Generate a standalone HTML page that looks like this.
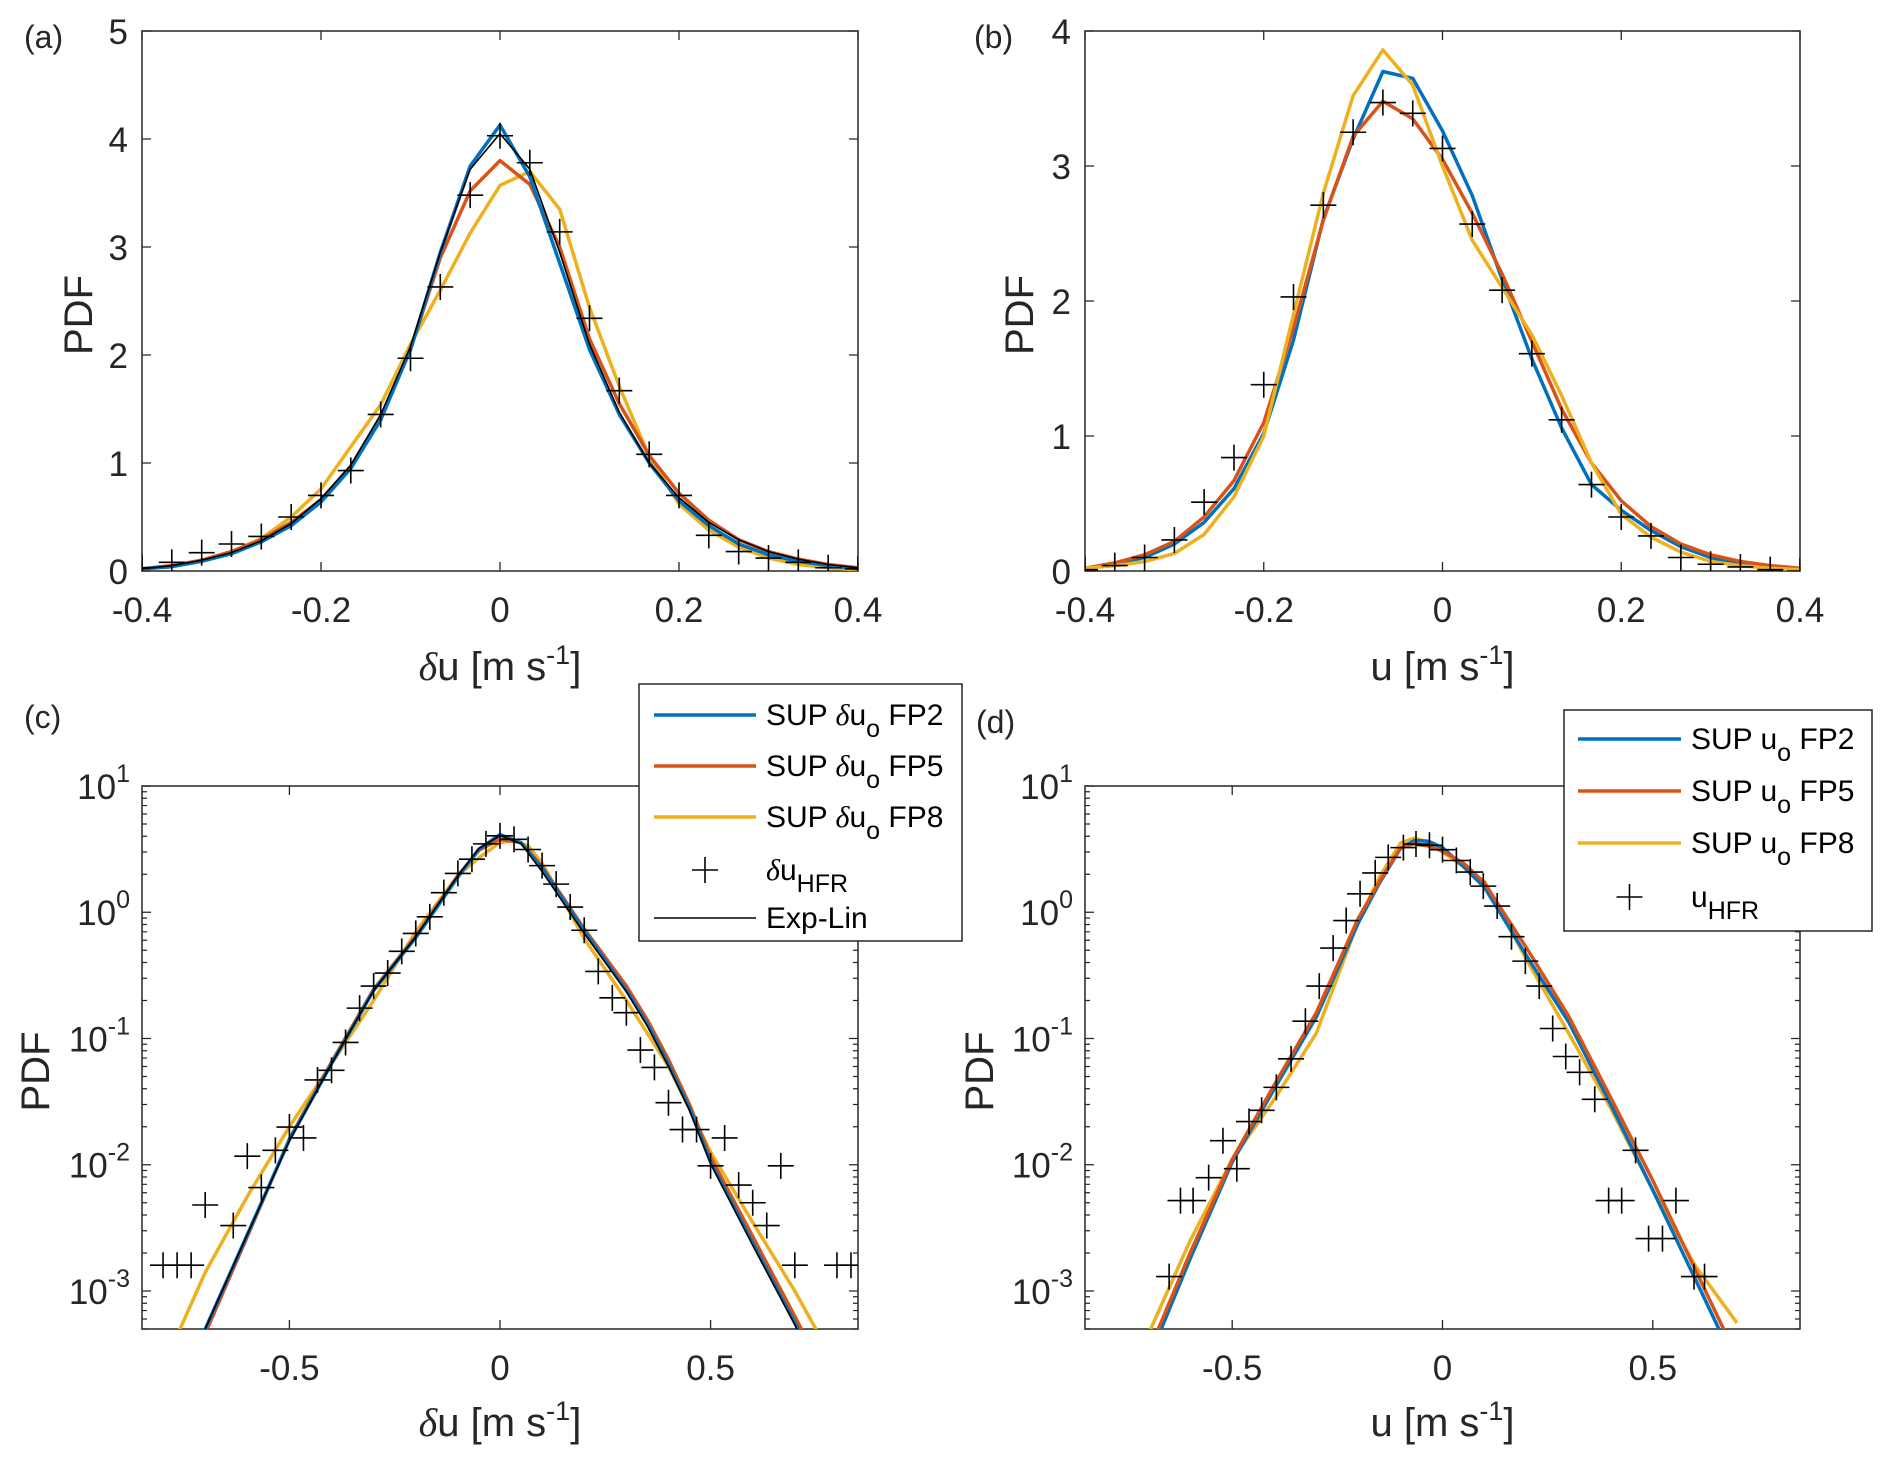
<!DOCTYPE html>
<html><head><meta charset="utf-8"><style>
html,body{margin:0;padding:0;background:#fff;}
svg{display:block;font-family:"Liberation Sans",Arial,sans-serif;}
</style></head><body>
<svg id="fig" width="1892" height="1461" viewBox="0 0 1892 1461" xmlns="http://www.w3.org/2000/svg">
<defs>
<clipPath id="clipA"><rect x="142" y="31" width="716" height="540"/></clipPath>
<clipPath id="clipB"><rect x="1085" y="31" width="715" height="540"/></clipPath>
<clipPath id="clipC"><rect x="142" y="786" width="716" height="543"/></clipPath>
<clipPath id="clipD"><rect x="1085" y="786" width="715" height="543"/></clipPath>
</defs>
</svg>
<script>
// ---------- Panel (a) data: delta-u PDF, linear ----------
const aGridX = [-0.4,-0.3667,-0.3333,-0.3,-0.2667,-0.2333,-0.2,-0.1667,-0.1333,-0.1,-0.0667,-0.0333,0,0.0333,0.0667,0.1,0.1333,0.1667,0.2,0.2333,0.2667,0.3,0.3333,0.3667,0.4];
const aHFR  = [0.03,0.08,0.17,0.25,0.32,0.50,0.70,0.93,1.45,1.97,2.63,3.48,4.03,3.78,3.14,2.34,1.67,1.08,0.70,0.33,0.18,0.12,0.08,0.03,0.02];
const aFP2  = [0.02,0.04,0.09,0.16,0.27,0.42,0.64,0.95,1.40,2.05,2.95,3.75,4.13,3.65,2.85,2.05,1.45,1.00,0.65,0.42,0.25,0.15,0.09,0.05,0.02];
const aFP5  = [0.02,0.05,0.10,0.18,0.29,0.45,0.66,0.97,1.42,2.05,2.90,3.52,3.80,3.58,3.00,2.15,1.55,1.07,0.72,0.47,0.29,0.18,0.11,0.06,0.03];
const aFP8  = [0.02,0.05,0.10,0.18,0.30,0.50,0.76,1.15,1.54,2.10,2.60,3.13,3.57,3.70,3.35,2.44,1.71,1.06,0.62,0.38,0.22,0.12,0.06,0.03,0.01];
const aExpLin=[0.02,0.05,0.10,0.17,0.28,0.44,0.67,0.98,1.45,2.08,2.95,3.72,4.05,3.72,2.95,2.10,1.47,1.00,0.68,0.45,0.29,0.18,0.11,0.06,0.03];
const aXTicks = [-0.4,-0.2,0,0.2,0.4];
const aYTicks = [0,1,2,3,4,5];

// ---------- Panel (b) data: u PDF, linear ----------
const bGridX = aGridX;
const bHFR = [0.01,0.04,0.10,0.23,0.51,0.84,1.38,2.03,2.71,3.25,3.47,3.39,3.13,2.57,2.08,1.61,1.12,0.64,0.40,0.26,0.10,0.05,0.03,0.01,0.0];
const bFP2 = [0.02,0.05,0.10,0.20,0.36,0.61,1.02,1.71,2.61,3.20,3.70,3.65,3.26,2.78,2.16,1.57,1.06,0.64,0.45,0.30,0.18,0.10,0.05,0.02,0.01];
const bFP5 = [0.02,0.06,0.12,0.22,0.40,0.67,1.10,1.80,2.60,3.22,3.48,3.35,3.05,2.65,2.20,1.70,1.20,0.80,0.52,0.33,0.20,0.12,0.07,0.04,0.02];
const bFP8 = [0.02,0.04,0.07,0.13,0.27,0.55,1.00,1.90,2.80,3.52,3.86,3.60,3.00,2.45,2.10,1.75,1.30,0.80,0.42,0.25,0.14,0.07,0.04,0.02,0.01];
const bXTicks = [-0.4,-0.2,0,0.2,0.4];
const bYTicks = [0,1,2,3,4];

// ---------- Panel (c) data: delta-u PDF, log ----------
const cLineX = [-0.75,-0.7,-0.6,-0.5,-0.4,-0.3,-0.2,-0.1,-0.05,0,0.05,0.1,0.2,0.3,0.35,0.4,0.45,0.5,0.6,0.7,0.75];
const cFP2 = [2.0e-4,5.0e-4,2.8e-3,0.0158,0.063,0.24,0.63,1.9,3.16,4.12,3.55,2.24,0.71,0.24,0.13,0.062,0.028,0.0105,0.0024,5.6e-4,2.5e-4];
const cFP5 = [1.8e-4,4.6e-4,2.7e-3,0.016,0.065,0.245,0.65,1.95,3.1,3.8,3.55,2.3,0.74,0.26,0.14,0.068,0.03,0.0115,0.0027,6.3e-4,3.0e-4];
const cExpLin = [2.2e-4,5.0e-4,2.8e-3,0.0155,0.063,0.24,0.64,1.95,3.2,4.05,3.5,2.1,0.68,0.235,0.125,0.06,0.027,0.0102,0.0023,5.4e-4,2.5e-4];
const cFP8X = [-0.8,-0.7,-0.6,-0.5,-0.4,-0.3,-0.2,-0.1,-0.05,0,0.033,0.067,0.1,0.2,0.3,0.4,0.5,0.6,0.7,0.8];
const cFP8 = [2.5e-4,1.4e-3,5.6e-3,0.02,0.063,0.2,0.7,1.95,2.7,3.57,3.7,3.35,2.45,0.62,0.2,0.06,0.0126,0.0035,1.0e-3,2.5e-4];
const cHFRIdx = [-24,-23,-22,-21,-19,-18,-17,-16,-15,-14,-13,-12,-11,-10,-9,-8,-7,-6,-5,-4,-3,-2,-1,0,1,2,3,4,5,6,7,8,9,10,11,12,13,14,15,16,17,18,19,20,21,24,25];
const cHFR = [0.0016,0.0016,0.0016,0.0048,0.0033,0.0117,0.0066,0.013,0.0199,0.0163,0.047,0.056,0.093,0.174,0.26,0.33,0.49,0.68,0.92,1.43,2.03,2.63,3.48,4.03,3.78,3.14,2.34,1.67,1.1,0.72,0.34,0.21,0.16,0.081,0.059,0.031,0.019,0.019,0.0098,0.0163,0.0069,0.005,0.0033,0.0098,0.0016,0.0016,0.0016];
const cXTicks = [-0.5,0,0.5];
const logExps = [-3,-2,-1,0,1];

// ---------- Panel (d) data: u PDF, log ----------
const dLineX = [-0.7,-0.6,-0.5,-0.4,-0.3,-0.2,-0.15,-0.1,-0.067,-0.033,0,0.05,0.1,0.2,0.3,0.4,0.5,0.6,0.7];
const dFP2 = [2.8e-4,1.8e-3,0.0105,0.04,0.148,0.83,1.7,3.2,3.7,3.65,3.25,2.3,1.57,0.45,0.135,0.03,0.0063,1.26e-3,2.5e-4];
const dFP5 = [3.2e-4,2.0e-3,0.011,0.043,0.16,0.9,1.75,3.22,3.48,3.35,3.05,2.45,1.7,0.52,0.15,0.034,0.0075,1.5e-3,3.0e-4];
const dFP8 = [4.5e-4,2.5e-3,0.011,0.033,0.11,0.85,1.9,3.52,3.86,3.6,3.0,2.3,1.75,0.42,0.11,0.028,0.0063,1.6e-3,5.6e-4];
const dHFRX = [-0.650,-0.623,-0.593,-0.556,-0.522,-0.489,-0.460,-0.430,-0.395,-0.360,-0.326,-0.293,-0.260,-0.229,-0.196,-0.160,-0.129,-0.093,-0.063,-0.031,0,0.033,0.066,0.097,0.130,0.164,0.197,0.230,0.262,0.293,0.326,0.362,0.395,0.426,0.459,0.490,0.523,0.555,0.598,0.623];
const dHFR = [0.0013,0.0052,0.0052,0.0079,0.0155,0.0093,0.022,0.027,0.041,0.069,0.137,0.26,0.52,0.86,1.40,2.05,2.72,3.25,3.47,3.39,3.13,2.57,2.08,1.61,1.12,0.64,0.41,0.26,0.12,0.072,0.054,0.033,0.0052,0.0052,0.013,0.0026,0.0026,0.0052,0.0013,0.0013];
const dXTicks = [-0.5,0,0.5];

const BLUE='#0072BD', RED='#D95319', YEL='#EDB120';
const NS='http://www.w3.org/2000/svg';
const svg=document.getElementById('fig');

function el(tag, attrs, parent){
  const e=document.createElementNS(NS,tag);
  for(const k in attrs) e.setAttribute(k,attrs[k]);
  (parent||svg).appendChild(e);
  return e;
}

function makePanel(cfg){
  const g=el('g',{});
  
  
  const L=cfg.x0,R=cfg.x1,T=cfg.y0,B=cfg.y1;
  const sx=v=>L+(v-cfg.xmin)/(cfg.xmax-cfg.xmin)*(R-L);
  let sy;
  if(cfg.log){
    const lo=Math.log10(cfg.ymin), hi=Math.log10(cfg.ymax);
    sy=v=>B-(Math.log10(v)-lo)/(hi-lo)*(B-T);
  } else {
    sy=v=>B-(v-cfg.ymin)/(cfg.ymax-cfg.ymin)*(B-T);
  }
  cfg.sx=sx; cfg.sy=sy; cfg.g=g;
  el('rect',{x:L,y:T,width:R-L,height:B-T,fill:'#fff',stroke:'none'},g);
  cfg.xticks.forEach(t=>{
    const x=sx(t);
    const tk=el('path',{d:`M${x},${B}v-9M${x},${T}v9`,stroke:'#262626','stroke-width':1.3,fill:'none'},g);
    
    
    const lb=el('text',{x:x,y:B+51,'font-size':35,'text-anchor':'middle',fill:'#262626'},g);
    lb.textContent=String(t);
    
    
  });
  if(cfg.log){
    for(let d=-4; d<=1; d++){
      for(let m=1;m<=9;m++){
        const v=m*Math.pow(10,d);
        if(v<cfg.ymin||v>cfg.ymax+1e-9) continue;
        const y=sy(v), len=(m===1)?9:5;
        const mt=el('path',{d:`M${L},${y}h${len}M${R},${y}h-${len}`,stroke:'#262626','stroke-width':1.2,fill:'none'},g);
        
        
      }
    }
    logExps.forEach(e=>{
      const y=sy(Math.pow(10,e));
      const lb=el('text',{x:L-12,y:y+13,'font-size':35,'text-anchor':'end',fill:'#262626'},g);
      
      
      const t1=el('tspan',{},lb); t1.textContent='10';
      const t2=el('tspan',{dy:-17,'font-size':25},lb); t2.textContent=String(e);
    });
  } else {
    cfg.yticks.forEach(t=>{
      const y=sy(t);
      const tk=el('path',{d:`M${L},${y}h9M${R},${y}h-9`,stroke:'#262626','stroke-width':1.3,fill:'none'},g);
      
      
      const lb=el('text',{x:L-14,y:y+13,'font-size':35,'text-anchor':'end',fill:'#262626'},g);
      lb.textContent=String(t);
      
      
    });
  }
  const box=el('rect',{x:L,y:T,width:R-L,height:B-T,fill:'none',stroke:'#262626','stroke-width':1.5},g);
  
  
  const yl=el('text',{x:0,y:0,'font-size':40,'text-anchor':'middle',fill:'#262626',transform:`translate(${cfg.ylabX},${(T+B)/2+14}) rotate(-90)`},g);
  yl.textContent='PDF';
  
  
  const xl=el('text',{x:(L+R)/2,y:cfg.xlabY,'font-size':40,'text-anchor':'middle',fill:'#262626'},g);
  
  
  if(cfg.delta){ const d=el('tspan',{'font-family':'"Liberation Serif",serif','font-style':'italic'},xl); d.textContent='δ'; }
  const a=el('tspan',{},xl); a.textContent='u [m s';
  const s=el('tspan',{dy:-16,'font-size':27},xl); s.textContent='-1';
  const c=el('tspan',{dy:16},xl); c.textContent=']';
  const pl=el('text',{x:cfg.tagX,y:cfg.tagY,'font-size':32,fill:'#262626'},g);
  pl.textContent=cfg.tag;
  
  
  cfg.plot=el('g',{'clip-path':`url(#${cfg.clip})`},g);
  return cfg;
}

function line(cfg,xs,ys,color,w,name){
  const d=xs.map((x,i)=>(i?'L':'M')+cfg.sx(x).toFixed(1)+','+cfg.sy(ys[i]).toFixed(1)).join('');
  const p=el('path',{d:d,fill:'none',stroke:color,'stroke-width':w,'stroke-linejoin':'round'},cfg.plot);
  
  
}
function markers(cfg,xs,ys,name){
  const g=el('g',{},cfg.plot);
  
  
  xs.forEach((x,i)=>{
    const X=cfg.sx(x), Y=cfg.sy(ys[i]);
    const m=el('path',{d:`M${X-13},${Y}h26M${X},${Y-13}v26`,stroke:'#000','stroke-width':1.6,fill:'none'},g);
    
    
  });
}

const LW=3.5;
const A=makePanel({name:'panel-a',tag:'(a)',tagX:24,tagY:48,x0:142,x1:858,y0:31,y1:571,xmin:-0.4,xmax:0.4,ymin:0,ymax:5,log:false,xticks:aXTicks,yticks:aYTicks,ylabX:92,xlabY:680,delta:true,clip:'clipA'});
line(A,aGridX,aFP8,YEL,LW,'series-fp8');
line(A,aGridX,aFP5,RED,LW,'series-fp5');
line(A,aGridX,aFP2,BLUE,LW,'series-fp2');
line(A,aGridX,aExpLin,'#000',1.6,'series-exp-lin');
markers(A,aGridX,aHFR,'series-hfr');

const Bp=makePanel({name:'panel-b',tag:'(b)',tagX:974,tagY:48,x0:1085,x1:1800,y0:31,y1:571,xmin:-0.4,xmax:0.4,ymin:0,ymax:4,log:false,xticks:bXTicks,yticks:bYTicks,ylabX:1033,xlabY:680,delta:false,clip:'clipB'});
line(Bp,bGridX,bFP2,BLUE,LW,'series-fp2');
line(Bp,bGridX,bFP5,RED,LW,'series-fp5');
line(Bp,bGridX,bFP8,YEL,LW,'series-fp8');
markers(Bp,bGridX,bHFR,'series-hfr');

const C=makePanel({name:'panel-c',tag:'(c)',tagX:24,tagY:728,x0:142,x1:858,y0:786,y1:1329,xmin:-0.85,xmax:0.85,ymin:5e-4,ymax:10,log:true,xticks:cXTicks,ylabX:49,xlabY:1436,delta:true,clip:'clipC'});
line(C,cFP8X,cFP8,YEL,LW,'series-fp8');
line(C,cLineX,cFP5,RED,LW,'series-fp5');
line(C,cLineX,cFP2,BLUE,LW,'series-fp2');
line(C,cLineX,cExpLin,'#000',1.6,'series-exp-lin');
markers(C,cHFRIdx.map(i=>i/30),cHFR,'series-hfr');

const D=makePanel({name:'panel-d',tag:'(d)',tagX:976,tagY:733,x0:1085,x1:1800,y0:786,y1:1329,xmin:-0.85,xmax:0.85,ymin:5e-4,ymax:10,log:true,xticks:dXTicks,ylabX:993,xlabY:1436,delta:false,clip:'clipD'});
line(D,dLineX,dFP8,YEL,LW,'series-fp8');
line(D,dLineX,dFP2,BLUE,LW,'series-fp2');
line(D,dLineX,dFP5,RED,LW,'series-fp5');
markers(D,dHFRX,dHFR,'series-hfr');

function legend(name,x0,y0,w,h,rows,lineX0,lineX1,textX){
  const g=el('g',{});
  
  
  el('rect',{x:x0,y:y0,width:w,height:h,fill:'#fff',stroke:'#262626','stroke-width':1.5},g);
  rows.forEach(r=>{
    const eg=el('g',{},g);
    
    
    if(r.type==='line') el('path',{d:`M${lineX0},${r.y}H${lineX1}`,stroke:r.color,'stroke-width':r.w,fill:'none'},eg);
    else { const mx=(lineX0+lineX1)/2; el('path',{d:`M${mx-13},${r.y}h26M${mx},${r.y-13}v26`,stroke:'#000','stroke-width':1.6,fill:'none'},eg); }
    const t=el('text',{x:textX,y:r.y+10,'font-size':30,fill:'#000'},eg);
    r.parts.forEach(p=>{
      const s=el('tspan',p.a||{},t); s.textContent=p.t;
    });
  });
}
const sub=(t)=>({t:t,a:{dy:12,'font-size':25}});
const up=(t)=>({t:t,a:{dy:-12}});
const dl=()=>({t:'δ',a:{'font-family':'"Liberation Serif",serif','font-style':'italic'}});
legend('legend-c',639,684,323,257,[
  {type:'line',color:BLUE,w:LW,y:715,parts:[{t:'SUP '},dl(),{t:'u'},sub('o'),up(' FP2')]},
  {type:'line',color:RED,w:LW,y:766,parts:[{t:'SUP '},dl(),{t:'u'},sub('o'),up(' FP5')]},
  {type:'line',color:YEL,w:LW,y:817,parts:[{t:'SUP '},dl(),{t:'u'},sub('o'),up(' FP8')]},
  {type:'marker',y:870,parts:[dl(),{t:'u'},sub('HFR')]},
  {type:'line',color:'#000',w:1.6,y:918,parts:[{t:'Exp-Lin'}]}
],654,756,766);
legend('legend-d',1564,710,308,221,[
  {type:'line',color:BLUE,w:LW,y:739,parts:[{t:'SUP u'},sub('o'),up(' FP2')]},
  {type:'line',color:RED,w:LW,y:791,parts:[{t:'SUP u'},sub('o'),up(' FP5')]},
  {type:'line',color:YEL,w:LW,y:843,parts:[{t:'SUP u'},sub('o'),up(' FP8')]},
  {type:'marker',y:897,parts:[{t:'u'},sub('HFR')]}
],1578,1681,1691);
</script>
</body></html>
